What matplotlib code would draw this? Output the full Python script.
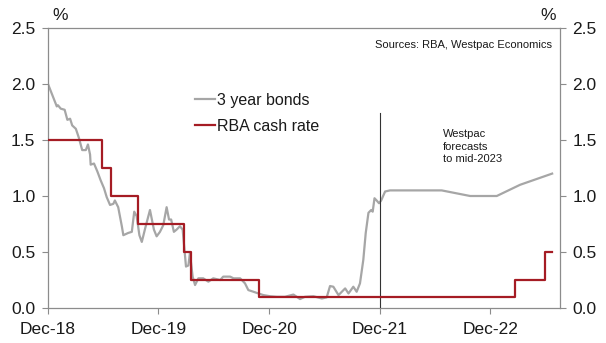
import matplotlib
matplotlib.use("Agg")
import matplotlib.pyplot as plt
import pandas as pd

plt.rcParams["font.family"] = ["Liberation Sans", "DejaVu Sans"]

# 3 year government bond yield (%), actuals then Westpac forecasts
bond_dates = [
    "2018-12-01", "2018-12-30", "2019-01-03", "2019-01-12", "2019-01-25", "2019-02-03",
    "2019-02-12", "2019-02-19", "2019-03-03", "2019-03-13", "2019-03-24", "2019-04-05",
    "2019-04-12", "2019-04-19", "2019-04-21", "2019-05-02", "2019-05-13", "2019-05-24",
    "2019-06-04", "2019-06-13", "2019-06-24", "2019-07-05", "2019-07-10", "2019-07-21",
    "2019-08-02", "2019-08-07", "2019-08-23", "2019-09-04", "2019-09-12", "2019-09-20",
    "2019-09-29", "2019-10-07", "2019-10-18", "2019-11-03", "2019-11-16", "2019-11-25",
    "2019-12-06", "2019-12-17", "2019-12-28", "2020-01-05", "2020-01-12", "2020-01-21",
    "2020-01-30", "2020-02-10", "2020-02-19", "2020-02-27", "2020-03-01", "2020-03-09",
    "2020-03-14", "2020-03-23", "2020-03-31", "2020-04-11", "2020-04-27", "2020-05-14",
    "2020-05-30", "2020-06-22", "2020-07-02", "2020-07-25", "2020-08-05", "2020-08-27",
    "2020-09-12", "2020-09-23", "2020-10-10", "2020-10-26", "2020-11-12", "2020-12-04",
    "2020-12-26", "2021-01-22", "2021-02-19", "2021-03-13", "2021-03-29", "2021-04-26",
    "2021-05-24", "2021-06-09", "2021-06-20", "2021-07-01", "2021-07-18", "2021-08-09",
    "2021-08-20", "2021-09-05", "2021-09-16", "2021-09-27", "2021-10-08", "2021-10-16",
    "2021-10-25", "2021-11-03", "2021-11-08", "2021-11-14", "2021-11-21", "2021-11-29",
    "2021-12-06", "2021-12-19", "2022-01-04",
    "2022-06-24", "2022-09-26", "2022-12-23", "2023-03-10", "2023-06-24",
]
bond_yield = [
    2.00, 1.80, 1.81, 1.78, 1.77, 1.68,
    1.69, 1.63, 1.60, 1.52, 1.41, 1.41,
    1.46, 1.37, 1.28, 1.29, 1.22, 1.14,
    1.07, 0.99, 0.92, 0.93, 0.96, 0.90,
    0.73, 0.65, 0.67, 0.68, 0.86, 0.82,
    0.65, 0.59, 0.71, 0.875, 0.70, 0.64,
    0.68, 0.74, 0.90, 0.79, 0.79, 0.68,
    0.70, 0.73, 0.70, 0.46, 0.37, 0.38,
    0.49, 0.28, 0.205, 0.265, 0.265, 0.235,
    0.265, 0.25, 0.28, 0.28, 0.265, 0.265,
    0.22, 0.16, 0.145, 0.13, 0.115, 0.105,
    0.10, 0.10, 0.12, 0.08, 0.10, 0.105,
    0.085, 0.095, 0.196, 0.19, 0.115, 0.175,
    0.13, 0.19, 0.145, 0.22, 0.43, 0.67,
    0.85, 0.875, 0.86, 0.98, 0.96, 0.935,
    0.96, 1.04, 1.05,
    1.05, 1.00, 1.00, 1.10, 1.20,
]

# RBA cash rate target (%), value in force from each date
rate_dates = [
    "2018-12-01", "2019-05-28", "2019-06-26", "2019-09-26", "2020-02-24",
    "2020-03-16", "2020-10-28", "2023-02-22", "2023-06-01", "2023-06-24",
]
cash_rate = [1.50, 1.25, 1.00, 0.75, 0.50, 0.25, 0.10, 0.25, 0.50, 0.50]

tick_dates = ["2018-12-01", "2019-12-01", "2020-12-01", "2021-12-01", "2022-12-01"]
tick_labels = ["Dec-18", "Dec-19", "Dec-20", "Dec-21", "Dec-22"]
y_ticks = [0.0, 0.5, 1.0, 1.5, 2.0, 2.5]

forecast_start = "2021-12-01"
forecast_marker_top = 1.74

bond_x = pd.to_datetime(bond_dates)
rate_x = pd.to_datetime(rate_dates)

fig = plt.figure(figsize=(6.06, 3.43), dpi=100)
ax = fig.add_axes([48 / 606, 1 - 308 / 343, 512 / 606, 280 / 343])

grey_spine = "#8c8c8c"
text_col = "#1a1a1a"
tick_fs = 12.5

ax.plot(bond_x, bond_yield, color="#a6a6a6", lw=1.6, label="3 year bonds", zorder=2)
ax.axvline(pd.Timestamp(forecast_start), ymin=0, ymax=forecast_marker_top / 2.5,
           color="#333333", lw=0.8, zorder=3)
ax.step(rate_x, cash_rate, where="post", color="#a51c24", lw=1.6,
        label="RBA cash rate", zorder=4)

ax.set_xlim(pd.Timestamp("2018-12-01"), pd.Timestamp("2023-07-20"))
ax.set_ylim(0, 2.5)
ax.set_xticks(pd.to_datetime(tick_dates))
ax.set_xticklabels(tick_labels)
ax.set_yticks(y_ticks)
ax.set_yticklabels([f"{v:.1f}" for v in y_ticks])

for s in ax.spines.values():
    s.set_color(grey_spine)
    s.set_linewidth(0.9)

ax.tick_params(axis="both", direction="out", length=4, width=0.8,
               color=grey_spine, labelsize=tick_fs, labelcolor=text_col)
ax.tick_params(axis="y", left=True, right=True, labelleft=True, labelright=True, pad=5)
ax.tick_params(axis="x", pad=6)

fig.text(60 / 606, 1 - 16 / 343, "%", ha="center", va="center",
         fontsize=tick_fs, color=text_col)
fig.text(548 / 606, 1 - 16 / 343, "%", ha="center", va="center",
         fontsize=tick_fs, color=text_col)

ax.text(552 / 606, 1 - 45 / 343, "Sources: RBA, Westpac Economics",
        transform=fig.transFigure, ha="right", va="center", fontsize=8, color=text_col)
ax.text(443 / 606, 1 - 146.5 / 343, "Westpac\nforecasts\nto mid-2023",
        transform=fig.transFigure, ha="left", va="center", fontsize=8,
        color=text_col, linespacing=1.3)

leg = ax.legend(loc="upper left", bbox_to_anchor=(195 / 606, 1 - 92.5 / 343),
                bbox_transform=fig.transFigure, frameon=False, fontsize=11.5,
                handlelength=1.25, handletextpad=0.12, labelspacing=0.72,
                borderpad=0, borderaxespad=0)
for t in leg.get_texts():
    t.set_color(text_col)

fig.savefig("out.png", dpi=100)
